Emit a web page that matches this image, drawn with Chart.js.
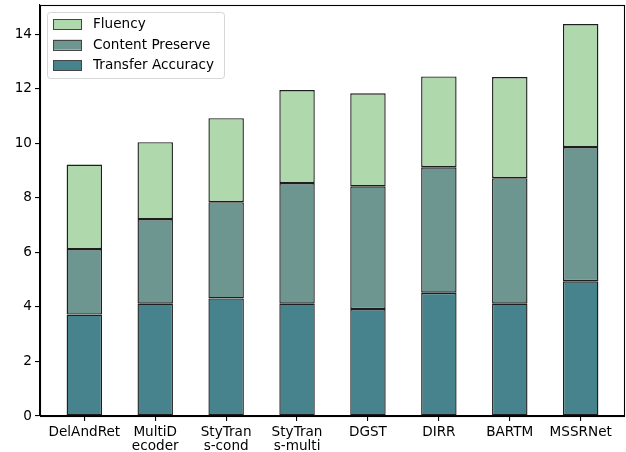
<!DOCTYPE html>
<html>
<head>
<meta charset="utf-8">
<script src="https://cdn.jsdelivr.net/npm/chart.js@4"></script>
<style>
html,body{margin:0;padding:0;background:#fff;}
#wrap{width:626px;height:452px;}
</style>
</head>
<body>
<div id="wrap"><canvas id="c" width="626" height="452"></canvas></div>
<script>
const categories = ["DelAndRet", "MultiD\necoder", "StyTran\ns-cond", "StyTran\ns-multi", "DGST", "DIRR", "BARTM", "MSSRNet"];
const transferAccuracy = [3.72, 4.12, 4.31, 4.12, 3.92, 4.52, 4.12, 4.94];
const contentPreserve = [2.40, 3.10, 3.53, 4.42, 4.50, 4.60, 4.60, 4.92];
const fluency = [3.10, 2.82, 3.08, 3.41, 3.41, 3.33, 3.71, 4.51];
const yTicks = [0, 2, 4, 6, 8, 10, 12, 14];
const seriesNames = ["Transfer Accuracy", "Content Preserve", "Fluency"];
const seriesColors = ["#47838d", "#6e9690", "#b0d8ad"];

const FONT = "'DejaVu Sans', sans-serif";
const toXY = arr => arr.map((v, i) => ({x: i, y: v}));

const frame = {
  id: 'frame',
  afterDraw(chart) {
    const ctx = chart.ctx, a = chart.chartArea;
    ctx.save();
    ctx.strokeStyle = '#000';
    ctx.lineWidth = 1.1;
    ctx.strokeRect(Math.round(a.left) + 0.5, Math.round(a.top) + 0.5, Math.round(a.right - a.left) - 1, Math.round(a.bottom - a.top));
    // legend
    const x0 = 47.5, y0 = 12.5, w = 177, h = 66, r = 3;
    ctx.beginPath();
    ctx.moveTo(x0 + r, y0);
    ctx.arcTo(x0 + w, y0, x0 + w, y0 + h, r);
    ctx.arcTo(x0 + w, y0 + h, x0, y0 + h, r);
    ctx.arcTo(x0, y0 + h, x0, y0, r);
    ctx.arcTo(x0, y0, x0 + w, y0, r);
    ctx.closePath();
    ctx.fillStyle = 'rgba(255,255,255,0.8)';
    ctx.fill();
    ctx.strokeStyle = 'rgba(204,204,204,0.8)';
    ctx.lineWidth = 1;
    ctx.stroke();
    const ds = chart.data.datasets.slice().reverse();
    ds.forEach((d, i) => {
      const cy = 24 + i * 20.7;
      ctx.fillStyle = d.backgroundColor;
      ctx.fillRect(53, cy - 5, 29, 10);
      ctx.strokeStyle = '#444';
      ctx.lineWidth = 1;
      ctx.strokeRect(53.5, Math.round(cy - 5) + 0.5, 28, 10);
      ctx.fillStyle = '#000';
      ctx.font = '13.6px ' + FONT;
      ctx.textBaseline = 'middle';
      ctx.textAlign = 'left';
      ctx.fillText(d.label, 93, cy + 0.5);
    });
    ctx.restore();
  }
};

const datasets = [transferAccuracy, contentPreserve, fluency].map((arr, k) => ({
  label: seriesNames[k],
  data: toXY(arr),
  backgroundColor: seriesColors[k],
  borderColor: '#1e1e1e',
  borderWidth: 1.4,
  borderSkipped: false,
  inflateAmount: 0,
  barPercentage: 0.5,
  categoryPercentage: 1.0
}));

new Chart(document.getElementById('c'), {
  type: 'bar',
  data: { datasets },
  options: {
    responsive: false,
    animation: false,
    devicePixelRatio: 1,
    layout: { padding: { left: 0, top: 5, right: 1, bottom: 0 } },
    plugins: { legend: { display: false }, tooltip: { enabled: false } },
    scales: {
      x: {
        type: 'linear',
        stacked: true,
        offset: false,
        min: -0.625,
        max: 7.625,
        afterBuildTicks: s => { s.ticks = categories.map((c, i) => ({value: i})); },
        afterFit: s => { s.height = 36; s.paddingLeft = 0; s.paddingRight = 0; },
        grid: { offset: false, drawOnChartArea: false, tickLength: 5, tickColor: '#000', lineWidth: 1.1 },
        border: { display: true, color: '#000', width: 1.1 },
        ticks: {
          autoSkip: false,
          maxRotation: 0,
          padding: 4,
          color: '#000',
          font: { family: FONT, size: 13.6, lineHeight: 1.07 },
          callback: v => (categories[v] !== undefined ? categories[v].split('\n') : '')
        }
      },
      y: {
        stacked: true,
        min: 0,
        max: 15.07,
        afterBuildTicks: s => { s.ticks = yTicks.map(v => ({value: v})); },
        afterFit: s => { s.width = 40; s.paddingTop = 0; s.paddingBottom = 0; },
        grid: { drawOnChartArea: false, tickLength: 5, tickColor: '#000', lineWidth: 1.1 },
        border: { display: true, color: '#000', width: 1.1 },
        ticks: {
          padding: 3,
          color: '#000',
          font: { family: FONT, size: 13.6 },
          callback: v => String(v)
        }
      }
    }
  },
  plugins: [frame]
});
</script>
</body>
</html>
